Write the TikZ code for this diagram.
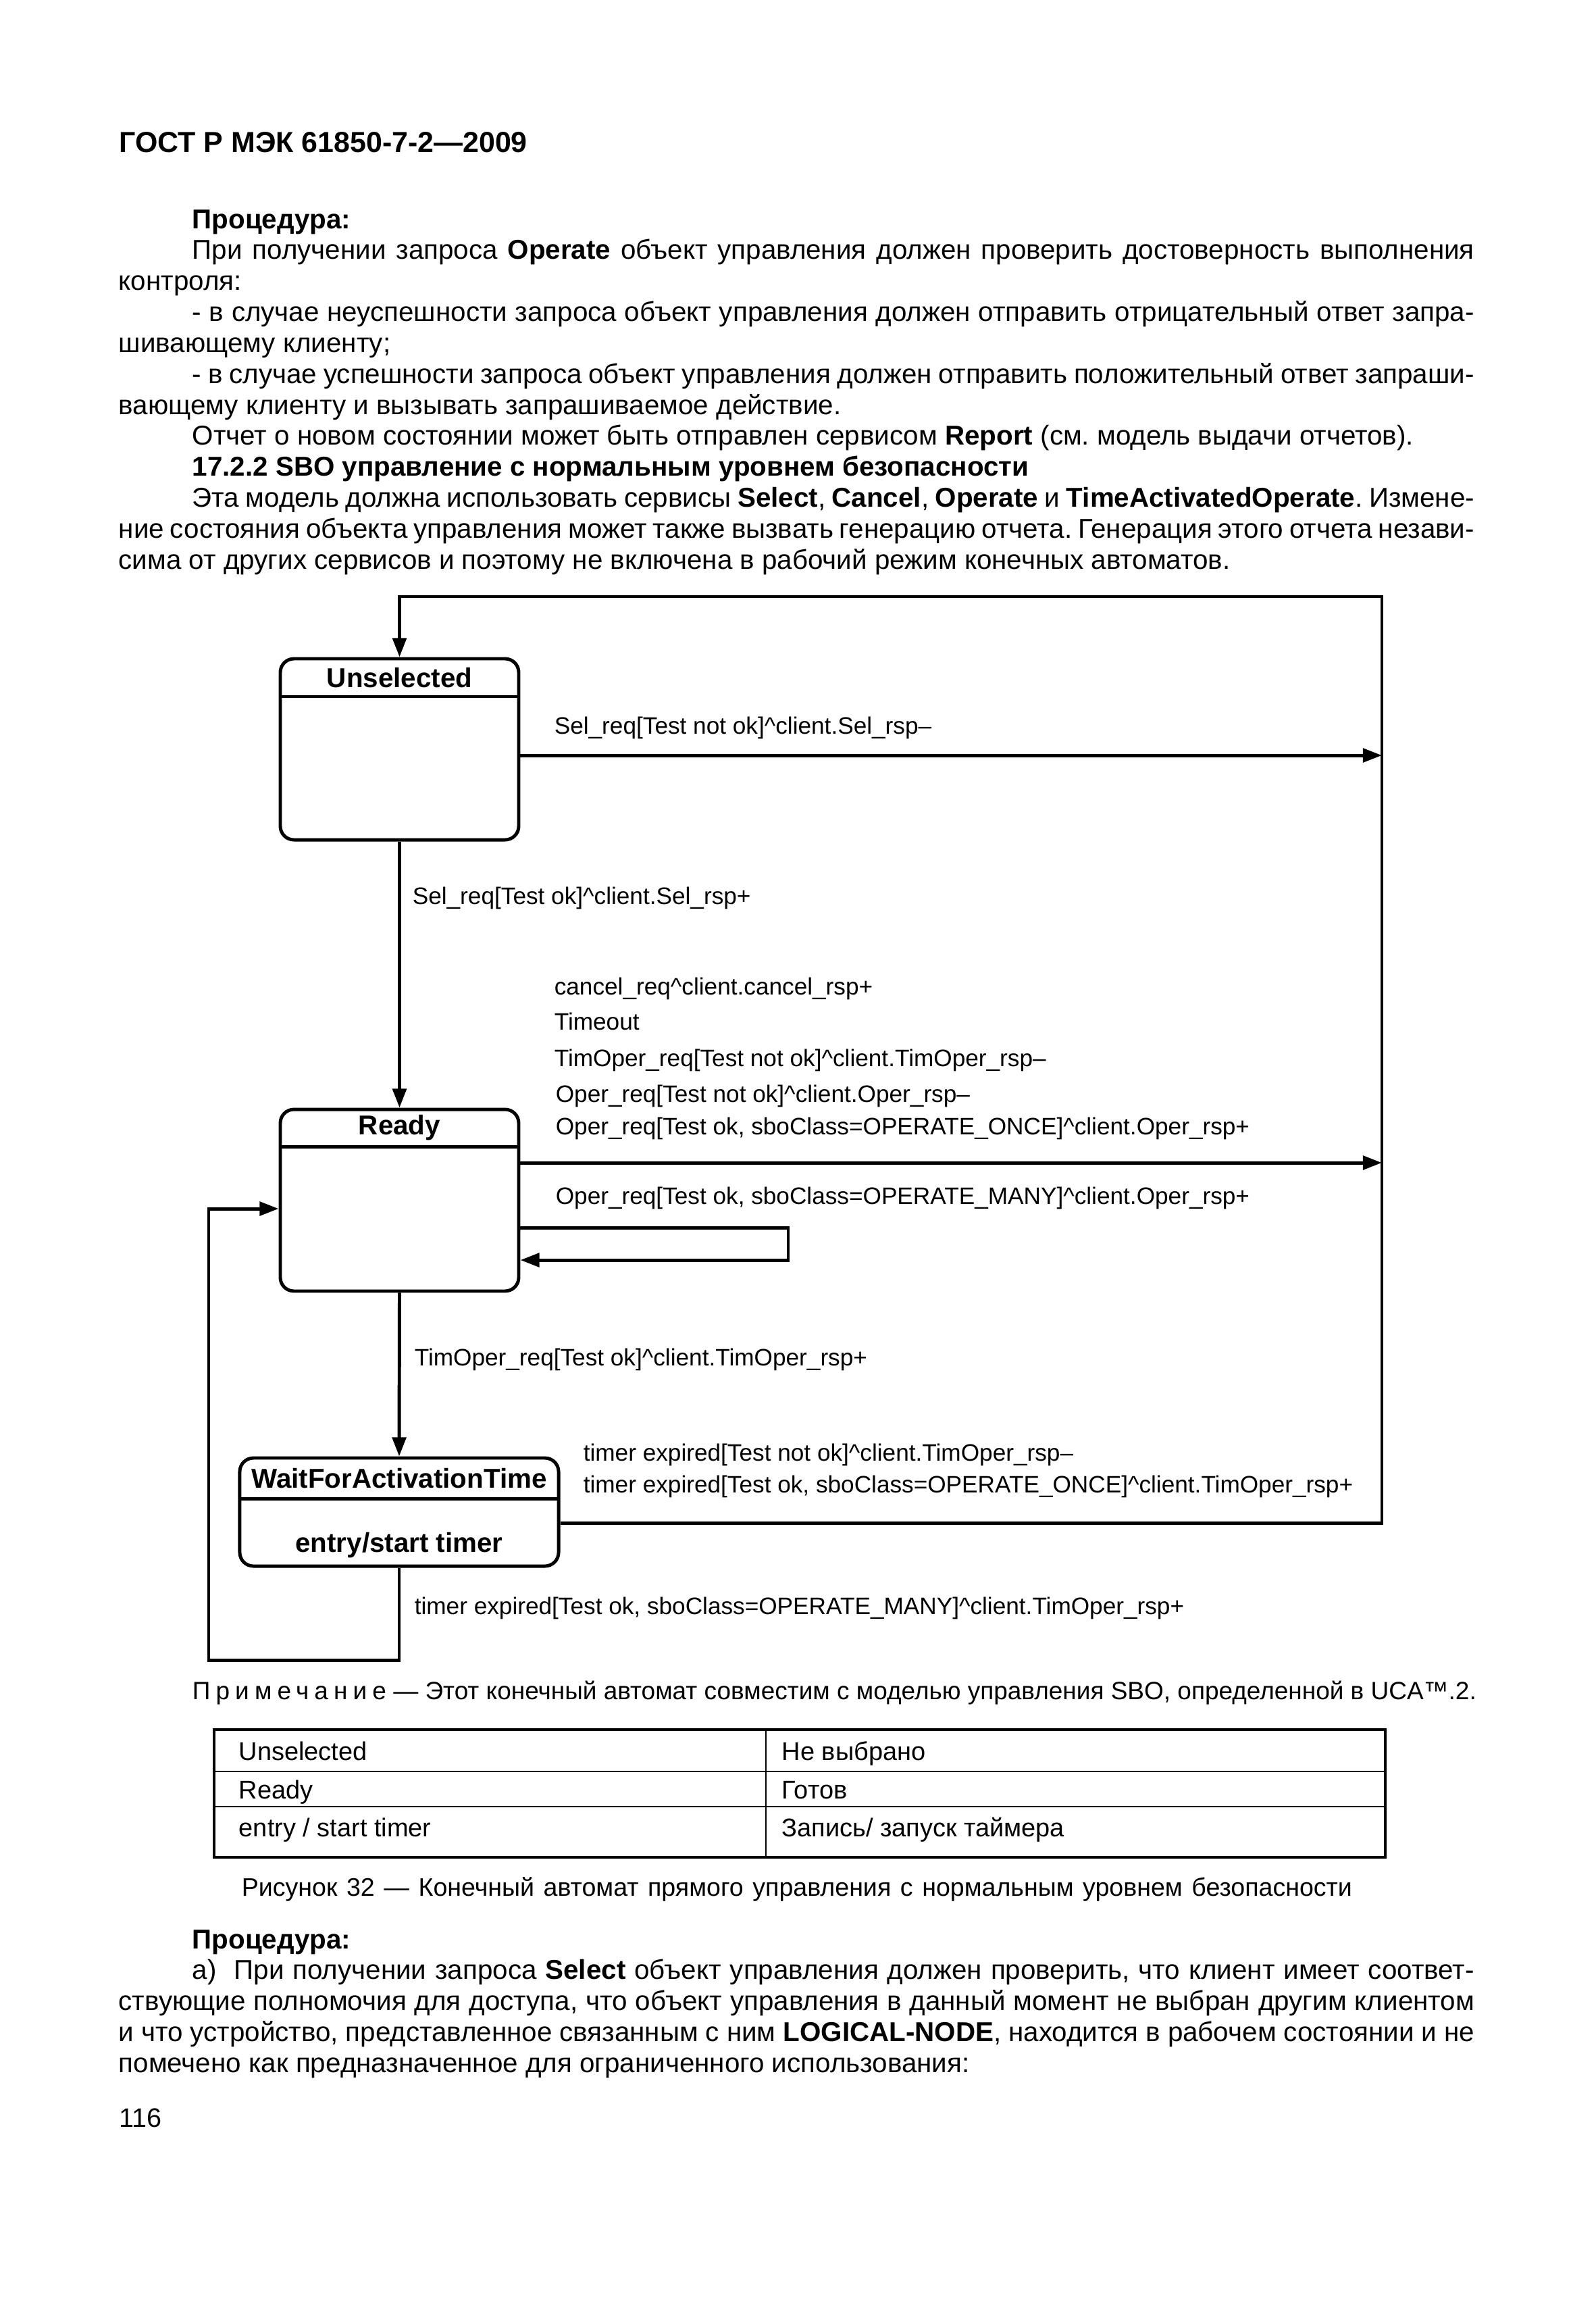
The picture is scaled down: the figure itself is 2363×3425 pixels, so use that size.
\documentclass[tikz,border=0pt]{standalone}
\usepackage{fontspec}
\setmainfont{Liberation Sans}
\usetikzlibrary{arrows.meta}
\frenchspacing
\newlength{\firstind}\setlength{\firstind}{9.69mm}
\newcommand{\bodysetup}{\spaceskip=0.278em plus 0.5em minus 0.12em\relax}
\tikzset{
  state/.style={draw,line width=1.25pt,rounded corners=1.8mm,minimum width=31.37mm},
  divider/.style={line width=1.25pt},
  trans/.style={line width=1.25pt,-{Triangle[length=2.5mm,width=1.8mm]}},
  statename/.style={inner sep=0pt,font=\fontsize{10.2}{12}\selectfont\bfseries},
  lbl/.style={anchor=west,inner sep=0pt,font=\fontsize{8.9}{10}\selectfont},
  body/.style={anchor=base west,inner sep=0pt,text width=178.36mm,align=justify,
    font=\fontsize{10.2}{11.59}\selectfont},
  cell/.style={anchor=base west,inner sep=0pt,font=\fontsize{9.6}{11}\selectfont},
}
\begin{document}
\begin{tikzpicture}[x=0.08887mm,y=-0.08887mm]
  \fill[white] (0,0) rectangle (2363,3425);
  \useasboundingbox (0,0) rectangle (2363,3425);
  % page text above the figure
  \node[anchor=base west,inner sep=0pt,font=\fontsize{10.85}{12}\selectfont\bfseries] (gost) at (176,225) {ГОСТ Р МЭК 61850-7-2—2009};
  \node[body] (intro) at (175,338) {\bodysetup
    \hspace*{\firstind}\textbf{Процедура:}\\
    \hspace*{\firstind}При получении запроса \textbf{Operate} объект управления должен проверить достоверность выполнения\linebreak
    контроля:\\
    \hspace*{\firstind}- в случае неуспешности запроса объект управления должен отправить отрицательный ответ запра-\linebreak
    шивающему клиенту;\\
    \hspace*{\firstind}- в случае успешности запроса объект управления должен отправить положительный ответ запраши-\linebreak
    вающему клиенту и вызывать запрашиваемое действие.\\
    \hspace*{\firstind}Отчет о новом состоянии может быть отправлен сервисом \textbf{Report} (см. модель выдачи отчетов).\\
    \hspace*{\firstind}\textbf{17.2.2 SBO управление с нормальным уровнем безопасности}\\
    \hspace*{\firstind}Эта модель должна использовать сервисы \textbf{Select}, \textbf{Cancel}, \textbf{Operate} и \textbf{TimeActivatedOperate}. Измене-\linebreak
    ние состояния объекта управления может также вызвать генерацию отчета. Генерация этого отчета незави-\linebreak
    сима от других сервисов и поэтому не включена в рабочий режим конечных автоматов.};

  % states
  \node[state,minimum height=23.82mm] (unsel) at (591.5,1109) {};
  \node[state,minimum height=23.9mm] (ready) at (591.5,1776.5) {};
  \node[state,minimum width=41.95mm,minimum height=14.22mm] (wait) at (591,2238) {};
  \draw[divider] (415,1031) -- (768,1031);
  \draw[divider] (415,1697) -- (768,1697);
  \draw[divider] (355,2218) -- (827,2218);
  \node[statename] (unseltitle) at (591.5,1003) {Unselected};
  \node[statename] (readytitle) at (591.5,1669) {Ready};
  \node[statename] (waittitle) at (591,2188) {WaitForActivationTime};
  \node[statename] (waitentry) at (591,2287) {entry/start timer};

  % bus on the right and loops
  \coordinate (bustop) at (2046,883);
  \coordinate (busU) at (2046,1118);
  \coordinate (busR) at (2046,1721);
  \coordinate (busW) at (2046,2254);
  \coordinate (selfA) at (1167,1817);
  \coordinate (selfB) at (1167,1865);
  \coordinate (backA) at (309,2457);
  \coordinate (backB) at (309,1789);

  \draw[trans] (wait.east |- busW) -- (busW) -- (bustop) -| (unsel.north);
  \draw[trans] (unsel.east |- busU) -- (busU);
  \draw[trans] (unsel.south) -- (ready.north);
  \draw[trans] (ready.east |- busR) -- (busR);
  \draw[trans] (ready.east |- selfA) -- (selfA) -- (selfB) -- (ready.east |- selfB);
  \draw[trans] (ready.south) -- (wait.north);
  \draw[trans] (wait.south) |- (backA) -- (backB) -- (ready.west |- backB);

  % transition labels
  \node[lbl] (l1) at (820,1077) {Sel\_req[Test not ok]\textasciicircum client.Sel\_rsp–};
  \node[lbl] (l2) at (610,1329) {Sel\_req[Test ok]\textasciicircum client.Sel\_rsp+};
  \node[lbl] (l3) at (820,1463) {cancel\_req\textasciicircum client.cancel\_rsp+};
  \node[lbl] (l4) at (820,1512) {Timeout};
  \node[lbl] (l5) at (820,1569) {TimOper\_req[Test not ok]\textasciicircum client.TimOper\_rsp–};
  \node[lbl] (l6) at (822,1622) {Oper\_req[Test not ok]\textasciicircum client.Oper\_rsp–};
  \node[lbl] (l7) at (822,1670) {Oper\_req[Test ok, sboClass=OPERATE\_ONCE]\textasciicircum client.Oper\_rsp+};
  \node[lbl] (l8) at (822,1773) {Oper\_req[Test ok, sboClass=OPERATE\_MANY]\textasciicircum client.Oper\_rsp+};
  \node[lbl] (l9) at (613,2012) {TimOper\_req[Test ok]\textasciicircum client.TimOper\_rsp+};
  \node[lbl] (l10) at (863,2153) {timer expired[Test not ok]\textasciicircum client.TimOper\_rsp–};
  \node[lbl] (l11) at (863,2200) {timer expired[Test ok, sboClass=OPERATE\_ONCE]\textasciicircum client.TimOper\_rsp+};
  \node[lbl] (l12) at (613,2380) {timer expired[Test ok, sboClass=OPERATE\_MANY]\textasciicircum client.TimOper\_rsp+};

  % note, table and caption
  \node[anchor=base west,inner sep=0pt,font=\fontsize{9.35}{11}\selectfont] (note) at (284,2515)
    {{\addfontfeature{LetterSpace=22}Примечание} — Этот конечный автомат совместим с моделью управления SBO, определенной в UCA™.2.};
  \draw[line width=0.9pt] (317,2560) rectangle (2051,2749);
  \draw[line width=0.7pt] (317,2622) -- (2051,2622) (317,2674) -- (2051,2674) (1134,2560) -- (1134,2749);
  \node[cell] (c11) at (353,2605) {Unselected};
  \node[cell] (c12) at (1157,2605) {Не выбрано};
  \node[cell] (c21) at (353,2662) {Ready};
  \node[cell] (c22) at (1157,2662) {Готов};
  \node[cell] (c31) at (353,2718) {entry / start timer};
  \node[cell] (c32) at (1157,2718) {Запись/ запуск таймера};
  \node[anchor=base west,inner sep=0pt,font=\fontsize{9.5}{11}\selectfont] (caption) at (357,2806)
    {\makebox[146.1mm][s]{Рисунок 32 — Конечный автомат прямого управления с нормальным уровнем безопасности}};

  % page text below the figure
  \node[body] (proc) at (175,2884) {\bodysetup
    \hspace*{\firstind}\textbf{Процедура:}\\
    \hspace*{\firstind}а)~~При получении запроса \textbf{Select} объект управления должен проверить, что клиент имеет соответ-\linebreak
    ствующие полномочия для доступа, что объект управления в данный момент не выбран другим клиентом\linebreak
    и что устройство, представленное связанным с ним \textbf{LOGICAL-NODE}, находится в рабочем состоянии и не\linebreak
    помечено как предназначенное для ограниченного использования:};
  \node[anchor=base west,inner sep=0pt,font=\fontsize{10}{12}\selectfont] (pageno) at (176,3148) {116};
\end{tikzpicture}
\end{document}
